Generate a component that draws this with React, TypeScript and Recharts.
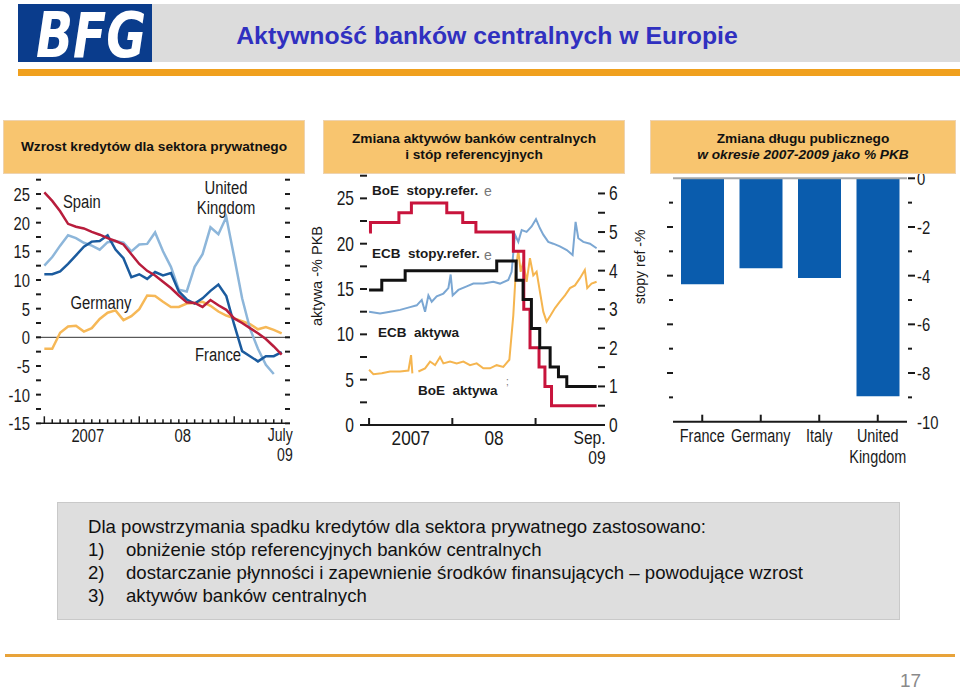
import React from 'react';
import { LineChart, Line, XAxis, YAxis, ReferenceLine, BarChart, Bar } from 'recharts';

// ---------- Panel 1: Wzrost kredytów dla sektora prywatnego (monthly, Jan 2007 – Jul 2009)
const creditMonths = [0,1,2,3,4,5,6,7,8,9,10,11,12,13,14,15,16,17,18,19,20,21,22,23,24,25,26,27,28,29,30];
const spainCredit = [25.3,23.8,22,19.8,19.3,19,18.4,17.9,17.3,16.8,16.2,14.5,12.8,11.6,10.8,9.7,8.6,7.3,6.1,6,5.3,6.5,5.6,4.8,3.3,2.5,1.6,0.7,-0.3,-1.6,-3];
const ukCredit = [12.5,14,16,17.8,17.3,16.5,16,15.3,16.6,16.8,16.5,15,16.2,16.3,18.3,15,12.3,8.3,8,12.3,14.5,19.2,18,21,14,6.8,1.5,-2,-4.8,-6.4,null];
const franceCredit = [11,11,11.5,12.8,14.3,15.8,16.7,16.8,17.8,15.3,13.8,10.5,11,10.2,11.4,10.8,11.2,8,6.6,5.9,6.8,8.1,9.2,7.2,2.2,-2.4,-3.3,-4.2,-3.3,-3.3,-2.6];
const germanyCredit = [-2,-2,0.8,1.9,2,1,1.6,3.2,4.3,4.7,3,3.7,4.9,7.3,7.2,6.2,5.3,5.3,5.9,6,6.2,5.5,4.5,3.8,3.3,2.8,2.3,1.4,1.8,1.3,0.7];
const creditTicksY = [-15,-12.5,-10,-7.5,-5,-2.5,0,2.5,5,7.5,10,12.5,15,17.5,20,22.5,25,27.5];

// ---------- Panel 2: aktywa banków centralnych (% PKB) i stopy referencyjne (%), months from Jan 2007
const ecbAssetMonths = [0,1.58,3.03,4.47,5.91,6.87,7.59,8.07,8.55,9.03,9.75,10.71,11.43,11.76,12.05,12.87,14.07,15.03,16.47,17.91,18.87,20.07,20.55,21.03,21.51,22.0,22.71,23.43,24.06,24.63,25.11,25.83,26.55,27.5,28.5,29.34,29.77,30.16,30.88,31.84,32.8];
const ecbAssets = [12.5,12.3,12.5,12.7,13.0,13.2,13.8,12.5,14.3,13.6,14.2,14.5,15.1,16.6,14.3,14.9,15.3,15.6,15.6,15.8,15.6,16.0,16.9,21.0,20.2,21.5,21.3,21.9,22.7,21.7,21.0,20.2,20.0,19.7,19.3,18.75,22.4,20.6,20.2,20.0,19.5];
const boeAssetMonths = [0,0.62,1.83,3.03,4.47,5.67,6.05,6.24,6.6,7.11,8.07,8.79,9.51,10.23,10.71,11.67,12.63,13.59,14.55,15.51,16.47,17.43,18.39,19.35,20.22,20.79,21.18,21.51,21.85,22.23,22.71,23.19,23.67,24.15,24.63,25.11,25.59,26.17,26.8,27.5,28.24,28.96,29.68,30.4,31.1,31.45,32.07,32.8];
const boeAssets = [6.1,5.6,5.7,5.9,5.9,6.0,7.7,5.7,null,5.9,6.25,7.0,6.6,7.5,6.8,7.0,6.8,7.0,6.6,6.8,6.25,6.25,6.6,6.4,7.2,12.1,17.3,19.3,16.9,18.0,15.8,18.4,16.5,16.9,14.7,12.5,11.4,12.1,12.9,13.6,14.3,15.1,15.4,16.2,17.1,15.1,15.6,15.8];
const boeRateMonths = [0,0.2,4.3,6.1,11.2,13.5,15.4,20.8,22.3,23.2,24.5,25.35,26.3,32.8];
const boeRate = [5.0,5.25,5.5,5.75,5.5,5.25,5.0,4.5,3.0,2.0,1.5,1.0,0.5,0.5];
const ecbRateMonths = [0,1.83,5.2,18.4,21.2,22.2,23.4,24.6,26.1,27.3,28.5,32.8];
const ecbRate = [3.5,3.75,4.0,4.25,3.75,3.25,2.5,2.0,1.5,1.25,1.0,1.0];
const assetTicks = [0,2.5,5,7.5,10,12.5,15,17.5,20,22.5,25,27.5];
const rateTicks = [0,0.5,1,1.5,2,2.5,3,3.5,4,4.5,5,5.5,6];

// ---------- Panel 3: Zmiana długu publicznego 2007-2009 (% PKB)
const debtCountries = ['France', 'Germany', 'Italy', 'United Kingdom'];
const debtChange = [-4.35, -3.7, -4.1, -8.95];
const debtTicks = [-10,-9,-8,-7,-6,-5,-4,-3,-2,-1,0];

const creditData = creditMonths.map((m, i) => ({
  m, spain: spainCredit[i], uk: ukCredit[i], france: franceCredit[i], germany: germanyCredit[i],
}));
const ecbAssetData = ecbAssetMonths.map((m, i) => ({ m, v: ecbAssets[i] }));
const boeAssetData = boeAssetMonths.map((m, i) => ({ m, v: boeAssets[i] }));
const boeRateData = boeRateMonths.map((m, i) => ({ m, v: boeRate[i] }));
const ecbRateData = ecbRateMonths.map((m, i) => ({ m, v: ecbRate[i] }));
const debtData = debtCountries.map((c, i) => ({ c, v: debtChange[i] }));

const SANS = '"Liberation Sans", Arial, sans-serif';
const INK = '#1a1a1a';

// condensed text: Liberation Sans squeezed horizontally
const NT = ({ x, y, anchor = 'start', size = 19, sx = 0.78, baseline, children }: any) => (
  <text transform={`translate(${x},${y}) scale(${sx},1)`} textAnchor={anchor} fontSize={size}
    fontFamily={SANS} fill={INK} dominantBaseline={baseline}>{children}</text>
);

// ---- tick renderers
const P1LeftTick = (p: any) => {
  const { x, y, payload } = p;
  const v = payload.value;
  return (
    <g>
      <line x1={x - 5} x2={x} y1={y} y2={y} stroke={INK} strokeWidth={2} />
      {v % 5 === 0 && <NT x={x - 11} y={y + 7} anchor="end">{v}</NT>}
    </g>
  );
};
const P1RightTick = (p: any) => {
  const { x, y } = p;
  return <line x1={x} x2={x + 5} y1={y} y2={y} stroke={INK} strokeWidth={2} />;
};
const P1XTick = (p: any) => {
  const { x, y, payload } = p;
  const v = payload.value;
  if (v === 5.5) return <NT x={x} y={y + 19} anchor="middle">2007</NT>;
  if (v === 17.5) return <NT x={x} y={y + 19} anchor="middle">08</NT>;
  const tall = v === 0 || v === 12 || v === 24;
  return (
    <g>
      <line x1={x} x2={x} y1={y} y2={y - (tall ? 7 : 4)} stroke={INK} strokeWidth={1.5} />
      {v === 30 && (
        <>
          <NT x={x + 11} y={y + 18} anchor="end" size={18}>July</NT>
          <NT x={x + 11} y={y + 38} anchor="end" size={18}>09</NT>
        </>
      )}
    </g>
  );
};

const P2LeftTick = (p: any) => {
  const { x, y, payload } = p;
  const v = payload.value;
  return (
    <g>
      <line x1={x - 7} x2={x} y1={y} y2={y} stroke={INK} strokeWidth={2} />
      {v % 5 === 0 && <NT x={x - 13} y={y + 7} anchor="end" size={20}>{v}</NT>}
    </g>
  );
};
const P2RightTick = (p: any) => {
  const { x, y, payload } = p;
  const v = payload.value;
  return (
    <g>
      <line x1={x} x2={x + 7} y1={y} y2={y} stroke={INK} strokeWidth={2} />
      {Number.isInteger(v) && <NT x={x + 11} y={y + 7} size={20}>{v}</NT>}
    </g>
  );
};
const P2XTick = (p: any) => {
  const { x, y, payload } = p;
  const v = payload.value;
  if (v === 6) return <NT x={x} y={y + 20} anchor="middle" size={20} sx={0.86}>2007</NT>;
  if (v === 18) return <NT x={x} y={y + 20} anchor="middle" size={20} sx={0.86}>08</NT>;
  if (v === 32.8) return (
    <g>
      <NT x={x + 9} y={y + 19} anchor="end" size={19} sx={0.82}>Sep.</NT>
      <NT x={x + 9} y={y + 39} anchor="end" size={19} sx={0.82}>09</NT>
    </g>
  );
  return <line x1={x} x2={x} y1={y} y2={y - 7} stroke={INK} strokeWidth={2} />;
};

const P3LeftTick = (p: any) => {
  const { x, y, payload } = p;
  const v = payload.value;
  if (v === 0 || v === -10) return <g />;
  const len = v % 2 === 0 ? 6 : 4;
  return <line x1={x - len} x2={x} y1={y} y2={y} stroke={INK} strokeWidth={2} />;
};
const P3RightTick = (p: any) => {
  const { x, y, payload } = p;
  const v = payload.value;
  const len = v % 2 === 0 ? 7 : 4;
  return (
    <g>
      {v !== -10 && <line x1={x + 1} x2={x + 1 + len} y1={y} y2={y} stroke={INK} strokeWidth={2} />}
      {v % 2 === 0 && <NT x={x + 10} y={y + 7} size={19}>{v}</NT>}
    </g>
  );
};
const P3XTick = (p: any) => {
  const { x, y, payload } = p;
  const v = payload.value as string;
  const lines = v === 'United Kingdom' ? ['United', 'Kingdom'] : [v];
  return (
    <g>
      <line x1={x} x2={x} y1={y} y2={y - 7} stroke={INK} strokeWidth={2} />
      {lines.map((t, i) => (
        <NT key={t} x={x} y={y + 20 + i * 21} anchor="middle" size={19} sx={0.76}>{t}</NT>
      ))}
    </g>
  );
};

const boxStyle = (left: number, width: number): React.CSSProperties => ({
  position: 'absolute', left, top: 120, width, height: 54, background: '#F8C56F',
  border: '1px solid #EED3B0', boxSizing: 'border-box', display: 'flex', flexDirection: 'column',
  alignItems: 'center', justifyContent: 'center', fontFamily: SANS, fontWeight: 700, fontSize: 13.7,
  color: '#111', lineHeight: '16px', textAlign: 'center',
});

export default function App() {
  return (
    <div style={{ position: 'absolute', left: 0, top: 0, width: 960, height: 690, background: '#fff', overflow: 'hidden', fontFamily: SANS }}>
      {/* header */}
      <div style={{ position: 'absolute', left: 152, top: 4, width: 808, height: 58, background: '#DCDCDC' }} />
      <div style={{ position: 'absolute', left: 18, top: 4, width: 134, height: 58, background: '#0A3C8C' }} />
      <svg width={960} height={80} style={{ position: 'absolute', left: 0, top: 0 }}>
        <text x={91} y={57} textAnchor="middle" fontSize={62} fontWeight={900} fontStyle="italic" fill="#fff"
          fontFamily='"DejaVu Sans", sans-serif' textLength={110} lengthAdjust="spacingAndGlyphs">BFG</text>
        <text x={487} y={44} textAnchor="middle" fontSize={24.8} fontWeight={700} fill="#3030C0" fontFamily={SANS}>
          Aktywność banków centralnych w Europie
        </text>
      </svg>
      <div style={{ position: 'absolute', left: 18, top: 69, width: 942, height: 7, background: '#F0A01E' }} />

      {/* Panel 1 chart */}
      <div style={{ position: 'absolute', left: 0, top: 170 }}>
        <LineChart width={310} height={300} data={creditData} margin={{ top: 9.7, right: 0, bottom: 6.7, left: 0 }}>
          <XAxis dataKey="m" type="number" domain={[-0.42, 30.42]} allowDataOverflow height={40}
            ticks={[...creditMonths, 5.5, 17.5]} interval={0} tickSize={0} tickMargin={0}
            tickLine={false} axisLine={{ stroke: INK, strokeWidth: 1.5 }} tick={<P1XTick />} />
          <YAxis yAxisId="l" orientation="left" width={41} domain={[-15, 27.5]} ticks={creditTicksY} interval={0}
            allowDataOverflow tickSize={0} tickMargin={0} tickLine={false} axisLine={false} tick={<P1LeftTick />} />
          <YAxis yAxisId="r" orientation="right" width={25} domain={[-15, 27.5]} ticks={creditTicksY} interval={0}
            allowDataOverflow tickSize={0} tickMargin={0} tickLine={false} axisLine={false} tick={<P1RightTick />} />
          <ReferenceLine yAxisId="l" segment={[{ x: -1.05, y: 0 }, { x: 31.05, y: 0 }]} ifOverflow="visible" stroke="#333" strokeWidth={1} />
          <Line yAxisId="l" dataKey="germany" stroke="#F6B857" strokeWidth={2.5} dot={false} isAnimationActive={false} />
          <Line yAxisId="l" dataKey="uk" stroke="#8DB6DA" strokeWidth={2.5} dot={false} isAnimationActive={false} />
          <Line yAxisId="l" dataKey="france" stroke="#1B5B9E" strokeWidth={2.5} dot={false} isAnimationActive={false} />
          <Line yAxisId="l" dataKey="spain" stroke="#B81D3C" strokeWidth={2.5} dot={false} isAnimationActive={false} />
        </LineChart>
      </div>

      {/* Panel 2 chart */}
      <div style={{ position: 'absolute', left: 300, top: 170 }}>
        <LineChart width={345} height={300} margin={{ top: 5.7, right: 0, bottom: 5, left: 0 }}>
          <XAxis dataKey="m" type="number" domain={[-0.3, 33.0]} allowDataOverflow height={40}
            ticks={[0, 6, 12, 18, 24, 32.8]} interval={0} tickSize={0} tickMargin={0}
            tickLine={false} axisLine={{ stroke: INK, strokeWidth: 2 }} tick={<P2XTick />} />
          <YAxis yAxisId="a" orientation="left" width={67} domain={[0, 27.5]} ticks={assetTicks} interval={0}
            allowDataOverflow tickSize={0} tickMargin={0} tickLine={false} axisLine={false} tick={<P2LeftTick />} />
          <YAxis yAxisId="r" orientation="right" width={47} domain={[0, 6.46]} ticks={rateTicks} interval={0}
            allowDataOverflow tickSize={0} tickMargin={0} tickLine={false} axisLine={false} tick={<P2RightTick />} />
          <Line yAxisId="a" data={ecbAssetData} dataKey="v" stroke="#7BA7D3" strokeWidth={2} dot={false} isAnimationActive={false} />
          <Line yAxisId="a" data={boeAssetData} dataKey="v" stroke="#F5B54F" strokeWidth={2} dot={false} isAnimationActive={false} />
          <Line yAxisId="r" data={boeRateData} dataKey="v" type="stepAfter" stroke="#C8143C" strokeWidth={3} dot={false} isAnimationActive={false} />
          <Line yAxisId="r" data={ecbRateData} dataKey="v" type="stepAfter" stroke="#111" strokeWidth={3} dot={false} isAnimationActive={false} />
        </LineChart>
      </div>

      {/* Panel 3 chart */}
      <div style={{ position: 'absolute', left: 645, top: 170 }}>
        <BarChart width={315} height={300} data={debtData} margin={{ top: 8.3, right: 0, bottom: 8.3, left: 0 }}>
          <XAxis dataKey="c" height={40} interval={0} tickSize={0} tickMargin={0} tickLine={false}
            axisLine={{ stroke: INK, strokeWidth: 2 }} tick={<P3XTick />} />
          <YAxis yAxisId="l" orientation="left" width={28} domain={[-10, 0]} ticks={debtTicks} interval={0}
            allowDataOverflow tickSize={0} tickMargin={0} tickLine={false} axisLine={false} tick={<P3LeftTick />} />
          <YAxis yAxisId="r" orientation="right" width={53} domain={[-10, 0]} ticks={debtTicks} interval={0}
            allowDataOverflow tickSize={0} tickMargin={0} tickLine={false} axisLine={false} tick={<P3RightTick />} />
          <ReferenceLine yAxisId="l" y={0} stroke="#A8A8A8" strokeWidth={2} />
          <Bar yAxisId="l" dataKey="v" fill="#0A5CAD" barSize={43} isAnimationActive={false} />
        </BarChart>
      </div>

      {/* panel title boxes */}
      <div style={boxStyle(3, 302)}>Wzrost kredytów dla sektora prywatnego</div>
      <div style={boxStyle(323, 302)}>
        <div>Zmiana aktywów banków centralnych</div>
        <div>i stóp referencyjnych</div>
      </div>
      <div style={boxStyle(650, 306)}>
        <div>Zmiana długu publicznego</div>
        <div style={{ fontStyle: 'italic' }}>w okresie 2007-2009 jako % PKB</div>
      </div>

      {/* annotations */}
      <svg width={960} height={690} style={{ position: 'absolute', left: 0, top: 0, pointerEvents: 'none' }}>
        <NT x={63} y={208}>Spain</NT>
        <NT x={226} y={194} anchor="middle">United</NT>
        <NT x={226} y={214} anchor="middle">Kingdom</NT>
        <NT x={101} y={309} anchor="middle">Germany</NT>
        <NT x={218} y={361} anchor="middle">France</NT>
        <g fontFamily={SANS} fontSize={13.5} fontWeight={700} fill={INK}>
          <text x={372} y={195} xmlSpace="preserve">BoE  stopy.refer.</text>
          <text x={372} y={258} xmlSpace="preserve">ECB  stopy.refer.</text>
          <text x={378} y={337} xmlSpace="preserve">ECB  aktywa</text>
          <text x={418} y={395} xmlSpace="preserve">BoE  aktywa</text>
        </g>
        <g fontFamily={SANS} fontSize={14} fill="#777">
          <text x={484} y={196}>e</text>
          <text x={484} y={260}>e</text>
          <text x={506} y={385} fontSize={10}>;</text>
        </g>
        <text transform="translate(322,276) rotate(-90)" textAnchor="middle" fontFamily={SANS} fontSize={14.5} fill={INK}>aktywa -% PKB</text>
        <text transform="translate(645,267) rotate(-90)" textAnchor="middle" fontFamily={SANS} fontSize={14} fill={INK}>stopy ref -%</text>
      </svg>

      {/* text box */}
      <div style={{ position: 'absolute', left: 57, top: 502, width: 843, height: 118, background: '#DEDEDE', border: '1px solid #C9C9C9', boxSizing: 'border-box' }} />
      <div style={{ position: 'absolute', left: 88, top: 515, fontFamily: SANS, fontSize: 18.6, lineHeight: '23px', color: '#111' }}>
        <div>Dla powstrzymania spadku kredytów dla sektora prywatnego zastosowano:</div>
        <div><span style={{ display: 'inline-block', width: 38 }}>1)</span>obniżenie stóp referencyjnych banków centralnych</div>
        <div><span style={{ display: 'inline-block', width: 38 }}>2)</span>dostarczanie płynności i zapewnienie środków finansujących – powodujące wzrost</div>
        <div><span style={{ display: 'inline-block', width: 38 }}>3)</span>aktywów banków centralnych</div>
      </div>

      {/* footer */}
      <div style={{ position: 'absolute', left: 5, top: 654, width: 950, height: 3, background: '#E8A33A' }} />
      <div style={{ position: 'absolute', left: 900, top: 672, fontFamily: SANS, fontSize: 19, lineHeight: '18px', color: '#8a8a8a' }}>17</div>
    </div>
  );
}
